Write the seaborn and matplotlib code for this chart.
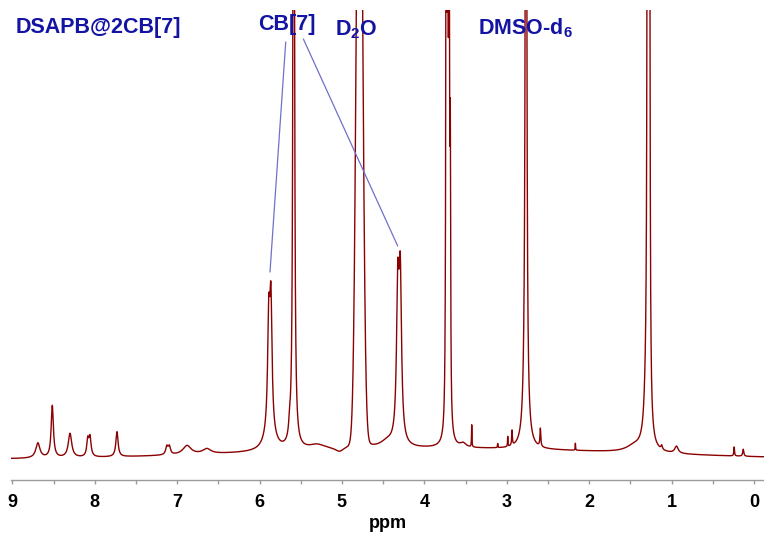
import numpy as np
import pandas as pd
import matplotlib
matplotlib.use("Agg")
import matplotlib.pyplot as plt
import seaborn as sns

# ---------------- data ----------------
# Lorentzian lines: centre (ppm), height (a.u.), half width (ppm)
peak_ppm = [8.69, 8.515, 8.30, 8.085, 8.058, 7.73, 7.125, 7.095, 6.88, 6.64,
            5.888, 5.862, 5.875, 5.635, 5.585, 5.30, 5.03,
            4.79, 4.45, 4.322, 4.292,
            3.735, 3.718, 3.700, 3.685, 3.53, 3.425, 3.11, 2.988, 2.936,
            2.766, 2.770, 2.592, 2.167,
            1.45, 1.305, 1.290, 1.270, 1.12, 0.94, 0.24, 0.13]
peak_height = [15, 52, 24, 16, 19, 25, 8, 8, 9, 5,
               105, 122, 18, 12, 1200, 5, -4,
               25, 6, 145, 155,
               700, 900, 700, 250, 4, 22, 4, 10, 15,
               2000, 130, 18, 7,
               6, 50, 1500, 1500, 4, 7, 9, 7]
peak_width = [0.03, 0.016, 0.025, 0.014, 0.016, 0.016, 0.016, 0.016, 0.06, 0.06,
              0.016, 0.016, 0.07, 0.012, 0.008, 0.12, 0.06,
              0.05, 0.10, 0.018, 0.018,
              0.005, 0.005, 0.005, 0.005, 0.04, 0.003, 0.003, 0.003, 0.005,
              0.005, 0.022, 0.006, 0.003,
              0.12, 0.03, 0.005, 0.005, 0.01, 0.025, 0.005, 0.008]

# Gaussian components: water (D2O) line and broad baseline hump
gauss_ppm = [4.787, 3.8]
gauss_height = [750, 11]
gauss_sigma = [0.036, 2.3]
baseline_offset = -1.5

tick_values = [9, 8, 7, 6, 5, 4, 3, 2, 1, 0]
tick_labels = ["9", "8", "7", "6", "5", "4", "3", "2", "1", "0"]

labels = ["DSAPB@2CB[7]", "CB[7]", "D$_2$O", "DMSO-d$_6$"]
label_px = [(16, 33.5), (258, 30), (335, 35), (478, 34.3)]

# annotation connector lines (ppm, intensity)
annot1_x = [5.682, 5.873]
annot1_y = [416, 186]
annot2_x = [5.468, 4.323]
annot2_y = [419, 212]

# ---------------- build spectrum ----------------
ppm = np.linspace(9.1, -0.15, 30000)
inten = np.full_like(ppm, baseline_offset)
for c, h, w in zip(peak_ppm, peak_height, peak_width):
    inten += h / (1.0 + ((ppm - c) / w) ** 2)
for c, h, s in zip(gauss_ppm, gauss_height, gauss_sigma):
    inten += h * np.exp(-((ppm - c) ** 2) / (2 * s * s))
df = pd.DataFrame({"ppm": ppm, "intensity": inten})

# ---------------- plot ----------------
sns.set_theme(style="white")
plt.rcParams["font.family"] = ["Liberation Sans", "DejaVu Sans"]
plt.rcParams["mathtext.fontset"] = "custom"
plt.rcParams["mathtext.rm"] = "Liberation Sans:bold"
plt.rcParams["mathtext.it"] = "Liberation Sans:bold"
plt.rcParams["mathtext.bf"] = "Liberation Sans:bold"

W, H = 764, 536
fig = plt.figure(figsize=(W / 100, H / 100), dpi=100)
ax = fig.add_axes([11 / W, 1 - 480 / H, 1 - 11 / W, (480 - 10) / H])

sns.lineplot(data=df, x="ppm", y="intensity", ax=ax, color="#8b0000",
             linewidth=1.0, estimator=None, sort=False)

ax.plot(annot1_x, annot1_y, color="#7070c8", linewidth=0.9)
ax.plot(annot2_x, annot2_y, color="#7070c8", linewidth=0.9)

ax.set_xlim(9.016, -0.122)
ax.set_ylim(-22, 448)

for s in ["left", "top", "right"]:
    ax.spines[s].set_visible(False)
ax.spines["bottom"].set_color("#9a9a9a")
ax.spines["bottom"].set_linewidth(1.0)

ax.set_yticks([])
ax.set_xticks(tick_values)
ax.set_xticklabels(tick_labels, fontweight="bold", fontsize=13, color="black")
ax.set_xticks([v + 0.5 for v in tick_values[1:]], minor=True)
ax.tick_params(axis="x", which="both", bottom=True, direction="out",
               length=3, width=1, color="#9a9a9a", pad=7)
ax.set_xlabel("ppm", fontweight="bold", fontsize=13, labelpad=3, color="black")
ax.set_ylabel("")

for txt, (px, py) in zip(labels, label_px):
    fig.text(px / W, 1 - py / H, txt, color="#1414a4", fontsize=15.5,
             fontweight="bold", ha="left", va="baseline")

fig.savefig("out.png", dpi=100)
